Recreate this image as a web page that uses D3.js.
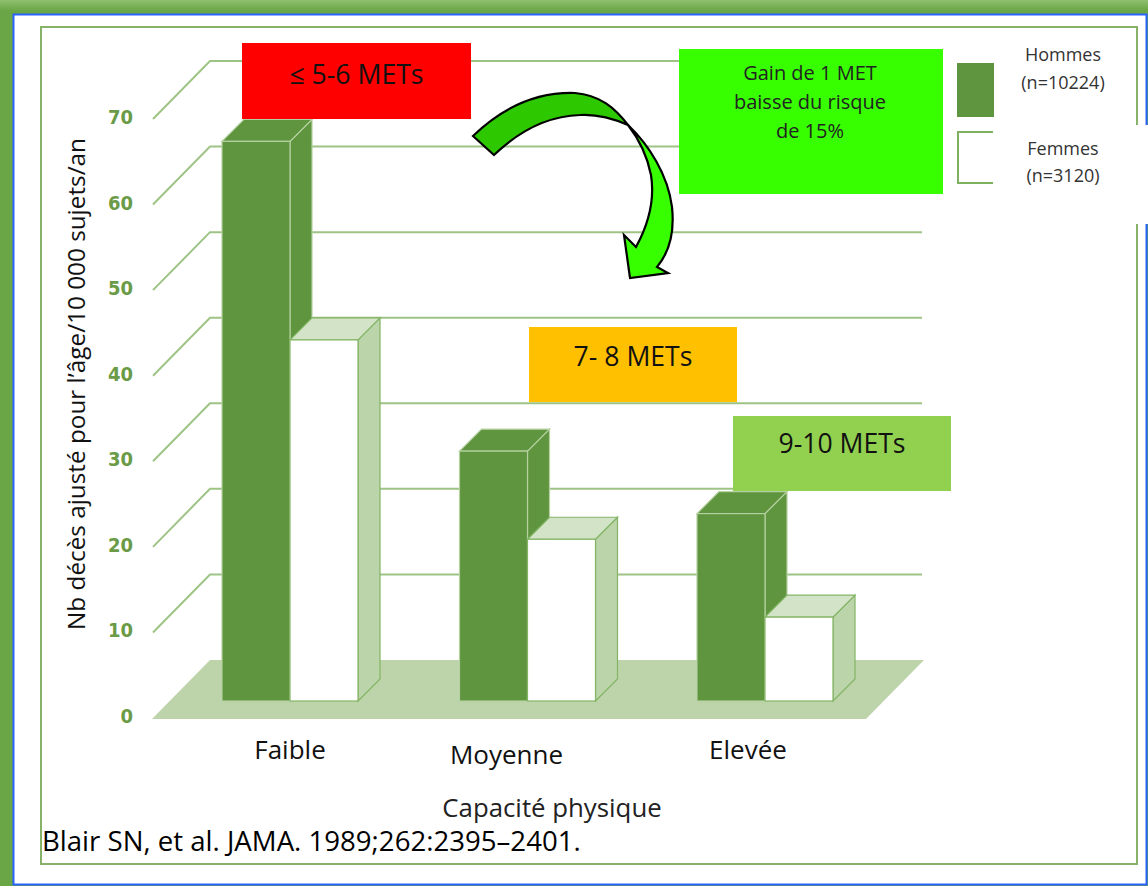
<!DOCTYPE html>
<html>
<head>
<meta charset="utf-8">
<script src="https://cdn.jsdelivr.net/npm/d3@7"></script>
<style>
  html, body { margin: 0; padding: 0; background: #fff; }
  svg { display: block; }
  text { font-family: "Open Sans", "Noto Sans", sans-serif; }
</style>
</head>
<body>
<svg id="chart" width="1148" height="886"></svg>
<script>
// Age-adjusted deaths per 10 000 person-years by fitness level (Blair 1989)
const categories = ["Faible", "Moyenne", "Elevée"];
const seriesNames = ["Hommes", "Femmes"];
const hommes = [65.4, 29.2, 21.9];
const femmes = [42.2, 18.9, 9.8];
const yTicks = [0, 10, 20, 30, 40, 50, 60, 70];
const legendLines = [["Hommes", "(n=10224)"], ["Femmes", "(n=3120)"]];
const metLabels = ["≤ 5-6 METs", "7- 8 METs", "9-10 METs"];
const gainLines = ["Gain de 1 MET", "baisse du risque", "de 15%"];
const yTitle = "Nb décès ajusté pour l’âge/10 000 sujets/an";
const xTitle = "Capacité physique";
const source = "Blair SN, et al. JAMA. 1989;262:2395–2401.";

const svg = d3.select("#chart");

// ---- page frame ----
const defs = svg.append("defs");
const frameGrad = defs.append("linearGradient").attr("id", "frameGrad")
  .attr("x1", 0).attr("y1", 0).attr("x2", 0).attr("y2", 1);
frameGrad.append("stop").attr("offset", "0").attr("stop-color", "#8fc06f");
frameGrad.append("stop").attr("offset", "0.012").attr("stop-color", "#6aa646");
frameGrad.append("stop").attr("offset", "1").attr("stop-color", "#6aa646");
svg.append("rect").attr("x", 0).attr("y", 0).attr("width", 1148).attr("height", 886)
  .attr("fill", "url(#frameGrad)");
svg.append("rect").attr("x", 13.5).attr("y", 14.5).attr("width", 1133).attr("height", 870)
  .attr("fill", "#fff").attr("stroke", "#2a62ff").attr("stroke-width", 2);
svg.append("rect").attr("x", 41).attr("y", 27).attr("width", 1096).attr("height", 837)
  .attr("fill", "none").attr("stroke", "#86b368").attr("stroke-width", 2);

// ---- scales ----
const h = d3.scaleLinear().domain([0, 70]).range([0, 599]);   // value -> height in px
const wallBase = 660;          // back wall baseline
const wallDx = 58, wallDy = -58; // depth of the side wall
const frontBase = 701;         // bar front baseline
const depth = { dx: 22, dy: -22 };
const xGroup = d3.scalePoint().domain(categories).range([290, 765]);
const xSeries = d3.scaleBand().domain(seriesNames).range([-68, 68]);
const barW = xSeries.bandwidth();

const plot = svg.append("g");

// floor
const floorLeft = 152, floorRight = 866;
plot.append("path")
  .attr("d", `M${floorLeft},${wallBase - wallDy + 1} L${floorLeft + wallDx},${wallBase} L${floorRight + wallDx},${wallBase} L${floorRight},${wallBase - wallDy + 1} Z`)
  .attr("fill", "#bdd4ab");

// gridlines: diagonal on the side wall, then horizontal along the back wall
const gridG = plot.append("g");
yTicks.forEach(v => {
  const yb = wallBase - h(v);
  const yf = yb - wallDy;
  if (v > 0) {
    gridG.append("path")
      .attr("d", `M${floorLeft + 1},${yf} L${floorLeft + wallDx},${yb} L${floorRight + wallDx - 2},${yb}`)
      .attr("fill", "none").attr("stroke", "#9ec485").attr("stroke-width", 2);
  }
  gridG.append("text")
    .attr("x", 133).attr("y", yf - 2)
    .attr("text-anchor", "end").attr("dominant-baseline", "central")
    .style("font-family", "'Liberation Sans Narrow', 'DejaVu Sans Condensed', sans-serif")
    .style("font-weight", "bold").style("font-size", "20px")
    .attr("fill", "#6b9b47")
    .text(v);
});

// 3D bars
function bar3d(g, x, v, front, top, side, edge) {
  const y0 = frontBase, y1 = frontBase - h(v);
  const { dx, dy } = depth;
  g.append("path")
    .attr("d", `M${x + barW},${y1} L${x + barW + dx},${y1 + dy} L${x + barW + dx},${y0 + dy} L${x + barW},${y0} Z`)
    .attr("fill", side).attr("stroke", edge).attr("stroke-width", 1.2);
  g.append("path")
    .attr("d", `M${x},${y1} L${x + dx},${y1 + dy} L${x + barW + dx},${y1 + dy} L${x + barW},${y1} Z`)
    .attr("fill", top).attr("stroke", edge).attr("stroke-width", 1.2);
  g.append("rect")
    .attr("x", x).attr("y", y1).attr("width", barW).attr("height", y0 - y1)
    .attr("fill", front).attr("stroke", edge).attr("stroke-width", 1.2);
}

const barsG = plot.append("g");
categories.forEach((c, i) => {
  bar3d(barsG, xGroup(c) + xSeries("Hommes"), hommes[i], "#5f953e", "#5f953e", "#5f953e", "#b5d1a1");
  bar3d(barsG, xGroup(c) + xSeries("Femmes"), femmes[i], "#ffffff", "#d3e3c7", "#bcd4aa", "#82b463");
});

// category labels
const catLabelY = [759, 764, 759];
const catLabelDx = [0, -21, -17];
categories.forEach((c, i) => {
  svg.append("text")
    .attr("x", xGroup(c) + catLabelDx[i]).attr("y", catLabelY[i])
    .attr("text-anchor", "middle").style("font-size", "26px").attr("fill", "#111")
    .text(c);
});

// axis titles
svg.append("text")
  .attr("transform", "translate(85,384) rotate(-90)")
  .attr("text-anchor", "middle").style("font-size", "24.3px").attr("fill", "#111")
  .text(yTitle);
svg.append("text")
  .attr("x", 552).attr("y", 817)
  .attr("text-anchor", "middle").style("font-size", "25.8px").attr("fill", "#222")
  .text(xTitle);
svg.append("text")
  .attr("x", 42).attr("y", 851)
  .style("font-size", "27.6px").attr("fill", "#000")
  .text(source);

// ---- MET annotation boxes ----
const metBoxes = [
  { x: 242, y: 43, w: 229, h: 76, fill: "#ff0000", ty: 41 },
  { x: 529, y: 327, w: 208, h: 75, fill: "#ffc000", ty: 39 },
  { x: 733, y: 416, w: 218, h: 75, fill: "#92d050", ty: 37 }
];
metBoxes.forEach((b, i) => {
  svg.append("rect").attr("x", b.x).attr("y", b.y).attr("width", b.w).attr("height", b.h)
    .attr("fill", b.fill);
  svg.append("text")
    .attr("x", b.x + b.w / 2).attr("y", b.y + b.ty)
    .attr("text-anchor", "middle").style("font-size", "26.6px").attr("fill", "#111")
    .text(metLabels[i]);
});

// gain box
svg.append("rect").attr("x", 679).attr("y", 49).attr("width", 264).attr("height", 145)
  .attr("fill", "#38ff00");
gainLines.forEach((t, i) => {
  svg.append("text")
    .attr("x", 810).attr("y", 80 + i * 29)
    .attr("text-anchor", "middle").style("font-size", "20px").attr("fill", "#222")
    .text(t);
});

// curved arrow (twisted ribbon)
const arrowG = svg.append("g").attr("stroke", "#000").attr("stroke-width", 2.2).attr("stroke-linejoin", "miter");
arrowG.append("path")
  .attr("d", "M473,136 C505,105 540,92 575,93 C600,95 615,108 628,125 C612,118 596,114 580,115 C550,116 520,130 494,155 Z")
  .attr("fill", "#2ec800");
arrowG.append("path")
  .attr("d", "M628,125 C649,145 668,175 672,207 C675,235 667,255 657,267 L668,273 L630,278 L624,235 L636,247 C648,225 655,200 651,175 C647,155 639,139 628,125 Z")
  .attr("fill", "#38ff00");

// ---- legend ----
svg.append("rect").attr("x", 994).attr("y", 125).attr("width", 154).attr("height", 99).attr("fill", "#fff");
svg.append("rect").attr("x", 957).attr("y", 63).attr("width", 37).attr("height", 54)
  .attr("fill", "#5f953e");
svg.append("path").attr("d", "M993,132 L958,132 L958,183 L993,183")
  .attr("fill", "none").attr("stroke", "#7fb05f").attr("stroke-width", 2);
const legendY = [[61, 89], [155, 182]];
legendLines.forEach((pair, i) => {
  pair.forEach((t, j) => {
    svg.append("text")
      .attr("x", 1063).attr("y", legendY[i][j])
      .attr("text-anchor", "middle").style("font-size", "18px").attr("fill", "#333")
      .text(t);
  });
});
</script>
</body>
</html>
